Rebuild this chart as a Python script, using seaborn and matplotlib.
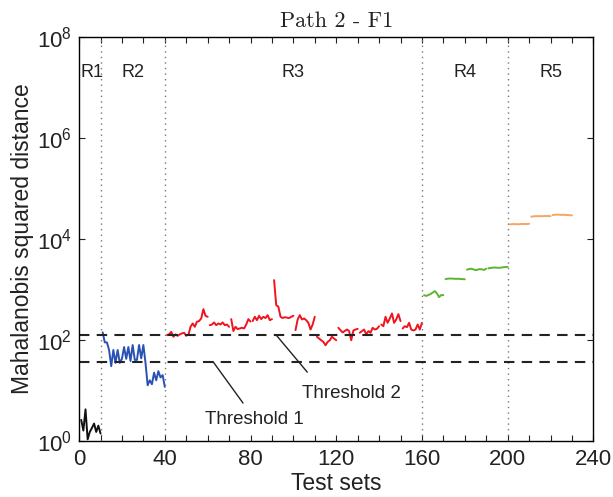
import numpy as np
import pandas as pd
import seaborn as sns
import matplotlib
matplotlib.use("Agg")
import matplotlib.pyplot as plt
from matplotlib.ticker import NullLocator

# test sets 1..230, ten per batch, grouped into five regions
regions = ["R1", "R2", "R3", "R4", "R5"]
region_bounds = [10, 40, 160, 200]
region_label_x = [6, 25, 100, 180, 220]

r1 = [2.6, 1.6, 4.2, 1.07, 1.5, 1.8, 2.2, 1.5, 2.0, 1.4]
r2 = [141, 89, 89, 63, 30, 63, 35, 63, 35, 42,
      72, 42, 72, 38, 79, 40, 40, 79, 43, 79,
      35, 12.6, 15.8, 13.2, 22.4, 15.8, 24, 18, 20, 11.7]
r3 = [124, 128, 144, 115, 128, 120, 128, 134, 138, 120,
      124, 181, 211, 181, 228, 235, 265, 405, 299, 286,
      195, 201, 221, 195, 211, 201, 221, 195, 201, 181,
      257, 149, 181, 163, 168, 173, 168, 201, 257, 230,
      235, 286, 245, 299, 257, 286, 270, 308, 245, 257,
      1520, 486, 451, 286, 270, 280, 275, 270, 285, 300,
      156, 253, 308, 253, 265, 245, 217, 160, 201, 286,
      115, 106, 98, 91, 78, 91, 98, 115, 106, 98,
      173, 155, 140, 150, 160, 149, 98, 153, 160, 165,
      138, 149, 160, 128, 149, 138, 173, 160, 165, 186,
      201, 186, 286, 217, 265, 333, 217, 253, 323, 235,
      168, 186, 178, 217, 160, 153, 160, 201, 160, 217]
r4 = [767, 740, 770, 805, 860, 923, 830, 700, 770, 767,
      1600, 1620, 1640, 1630, 1620, 1610, 1620, 1600, 1590, 1580,
      2450, 2520, 2560, 2480, 2400, 2450, 2520, 2480, 2420, 2560,
      2600, 2650, 2680, 2700, 2680, 2660, 2700, 2730, 2760, 2780]
r5 = [19300, 19500, 19600, 19500, 19400, 19600, 19700, 19600, 19700, 19800,
      27500, 27800, 28000, 28200, 28100, 28000, 28200, 28300, 28200, 28100,
      29500, 29900, 30100, 30000, 29800, 29900, 29700, 29500, 29300, 29100]

threshold_1 = 37
threshold_2 = 124

palette = {"R1": "#111111", "R2": "#2a52b5", "R3": "#f0141e",
           "R4": "#5cb531", "R5": "#f7a55e"}

values = r1 + r2 + r3 + r4 + r5
test_set = np.arange(1, len(values) + 1)
region = []
for name, vals in zip(regions, [r1, r2, r3, r4, r5]):
    region += [name] * len(vals)
df = pd.DataFrame({"test_set": test_set, "distance": values, "region": region})
# R1 and R2 are drawn as one trace each, later regions batch by batch
df["batch"] = (df["test_set"] - 1) // 10
df.loc[df["region"] == "R2", "batch"] = 1

sns.set_style("white")
plt.rcParams["font.family"] = ["Liberation Sans", "DejaVu Sans"]
plt.rcParams["mathtext.fontset"] = "custom"
plt.rcParams["mathtext.rm"] = "Liberation Sans"
plt.rcParams["mathtext.it"] = "Liberation Sans:italic"
plt.rcParams["mathtext.bf"] = "Liberation Sans:bold"
plt.rcParams["axes.edgecolor"] = "black"

fig = plt.figure(figsize=(6.13, 4.97), dpi=100)
ax = fig.add_axes([0.129, 0.113, 0.839, 0.813])

sns.lineplot(data=df, x="test_set", y="distance", hue="region", units="batch",
             estimator=None, palette=palette, linewidth=1.4, legend=False, ax=ax)

for b in region_bounds:
    ax.axvline(b, color="#777777", linestyle=(0, (1, 3)), linewidth=1)

ax.axhline(threshold_2, color="#222222", linewidth=1.5, dashes=(5, 3.5))
ax.axhline(threshold_1, color="#222222", linewidth=1.5, dashes=(5, 3.5))

ax.plot([62.5, 76.5], [threshold_1, 5.6], color="#222222", linewidth=1)
ax.plot([92, 106.5], [threshold_2, 22.9], color="#222222", linewidth=1)
ax.text(82, 2.6, "Threshold 1", ha="center", va="center", fontsize=13.5, color="#222222")
ax.text(127, 8.8, "Threshold 2", ha="center", va="center", fontsize=13.5, color="#222222")

for name, lx in zip(regions, region_label_x):
    ax.text(lx, 2.0e7, name, ha="center", va="center", fontsize=13, color="#222222")

ax.set_yscale("log")
ax.set_xlim(0, 240)
ax.set_ylim(1, 1e8)
ax.set_xticks(range(0, 241, 40))
ax.set_xticks(range(0, 241, 10), minor=True)
ax.set_yticks([1, 1e2, 1e4, 1e6, 1e8])
ax.yaxis.set_minor_locator(NullLocator())
ax.tick_params(which="both", direction="in", top=True, right=True, bottom=True, left=True,
               length=4, width=0.8, color="#222222")
ax.tick_params(which="major", labelsize=16, labelcolor="#222222")
ax.tick_params(axis="x", which="major", pad=6)
ax.tick_params(axis="y", which="major", pad=5)
for s in ax.spines.values():
    s.set_linewidth(1)

ax.set_xlabel("Test sets", fontsize=16.5, color="#222222", labelpad=1)
ax.set_ylabel("Mahalanobis squared distance", fontsize=16.5, color="#222222", labelpad=2)
ax.set_title("Path 2 - F1", fontsize=16, family="cmr10", pad=7, color="#222222")

fig.savefig("out.png", dpi=100)
